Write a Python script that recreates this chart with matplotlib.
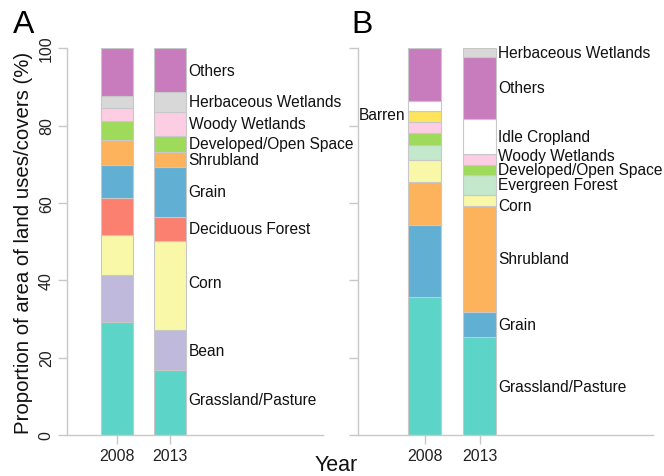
import matplotlib
matplotlib.use("Agg")
import matplotlib.pyplot as plt
import numpy as np

plt.rcParams['font.family'] = ['Liberation Sans', 'DejaVu Sans']

years = ['2008', '2013']

# panel A: stacked from bottom to top
cats_a = ['Grassland/Pasture', 'Bean', 'Corn', 'Deciduous Forest', 'Grain',
          'Shrubland', 'Developed/Open Space', 'Woody Wetlands',
          'Herbaceous Wetlands', 'Others']
a_2008 = [29.1, 12.3, 10.2, 9.6, 8.6, 6.4, 5.0, 3.4, 3.1, 12.3]
a_2013 = [16.8, 10.3, 23.0, 6.3, 12.9, 3.9, 4.1, 6.3, 5.0, 11.4]

# panel B
cats_b = ['Grassland/Pasture', 'Grain', 'Shrubland', 'Corn', 'Evergreen Forest',
          'Developed/Open Space', 'Woody Wetlands', 'Barren', 'Idle Cropland',
          'Others', 'Herbaceous Wetlands']
b_2008 = [35.6, 18.8, 11.0, 5.8, 3.7, 3.2, 2.7, 2.9, 2.6, 13.7, 0.0]
b_2013 = [25.3, 6.6, 27.3, 2.9, 5.1, 2.7, 2.7, 0.0, 9.2, 16.0, 2.2]

colors = {
    'Grassland/Pasture': '#5dd4c8',
    'Bean': '#bfbadb',
    'Corn': '#f8f8a8',
    'Deciduous Forest': '#fb8070',
    'Grain': '#62afd4',
    'Shrubland': '#fdb25c',
    'Developed/Open Space': '#9fdb5a',
    'Woody Wetlands': '#fdcde4',
    'Herbaceous Wetlands': '#d8d8d8',
    'Others': '#c87bbd',
    'Evergreen Forest': '#c3e8cb',
    'Barren': '#fde45c',
    'Idle Cropland': '#ffffff',
}

# small label nudges (in % units) so texts do not collide
nudge_a = {'Corn': 0.8, 'Grassland/Pasture': 0.7}
nudge_b = {'Woody Wetlands': 0.9, 'Corn': -1.3, 'Barren': 0.5}

fig = plt.figure(figsize=(6.64, 4.77), dpi=100)
ax_a = fig.add_axes([0.1009, 0.086, 0.3855, 0.811])
ax_b = fig.add_axes([0.5392, 0.086, 0.4443, 0.811])

grey = '#c8c8c8'
fs = 11.2


def stack(ax, cats, v1, v2, width, xlim):
    x = np.array([1, 2])
    vals = np.array([v1, v2])
    bottoms = np.zeros(2)
    for i, c in enumerate(cats):
        h = vals[:, i]
        ax.bar(x, h, width, bottom=bottoms, color=colors[c],
               edgecolor=grey, linewidth=0.8)
        bottoms = bottoms + h
    ax.set_xlim(*xlim)
    ax.set_ylim(0, 100)
    ax.set_xticks(x)
    ax.set_xticklabels(years, fontsize=11.5, color='#222222')
    for s in ['top', 'right']:
        ax.spines[s].set_visible(False)
    for s in ['left', 'bottom']:
        ax.spines[s].set_color(grey)
        ax.spines[s].set_linewidth(1.0)
    ax.tick_params(axis='both', colors=grey, length=6.5, width=1.0, pad=3)
    ax.tick_params(axis='x', labelcolor='#222222')
    ax.set_yticks([0, 20, 40, 60, 80, 100])
    return x, vals


x, vals = stack(ax_a, cats_a, a_2008, a_2013, 0.62, (0.057, 4.887))
tops = np.cumsum(vals[1])
for i, c in enumerate(cats_a):
    mid = tops[i] - vals[1][i] / 2 + nudge_a.get(c, 0)
    ax_a.text(2 + 0.31 + 0.04, mid, c, fontsize=fs, va='center', ha='left',
              color='#111111')
ax_a.set_yticklabels(['0', '20', '40', '60', '80', '100'], rotation=90,
                     va='center', fontsize=11.5, color='#222222')

x, vals = stack(ax_b, cats_b, b_2008, b_2013, 0.6, (-0.209, 5.155))
ax_b.set_yticklabels([])
tops = np.cumsum(vals[1])
for i, c in enumerate(cats_b):
    if vals[1][i] == 0:
        continue
    mid = tops[i] - vals[1][i] / 2 + nudge_b.get(c, 0)
    ax_b.text(2 + 0.3 + 0.04, mid, c, fontsize=fs, va='center', ha='left',
              color='#111111')
tops08 = np.cumsum(vals[0])
ib = cats_b.index('Barren')
mid = tops08[ib] - vals[0][ib] / 2 + nudge_b['Barren']
ax_b.text(1 - 0.3 - 0.04, mid, 'Barren', fontsize=fs, va='center', ha='right',
          color='#111111')

fig.text(0.035, 0.49, 'Proportion of area of land uses/covers (%)',
         rotation=90, fontsize=14.7, va='center', ha='center', color='#111111')
fig.text(0.506, 0.003, 'Year', fontsize=15.5, ha='center', va='bottom',
         color='#111111')
fig.text(0.035, 0.948, 'A', fontsize=23, ha='center', va='center')
fig.text(0.545, 0.947, 'B', fontsize=23, ha='center', va='center')

fig.savefig('out.png', dpi=100)
